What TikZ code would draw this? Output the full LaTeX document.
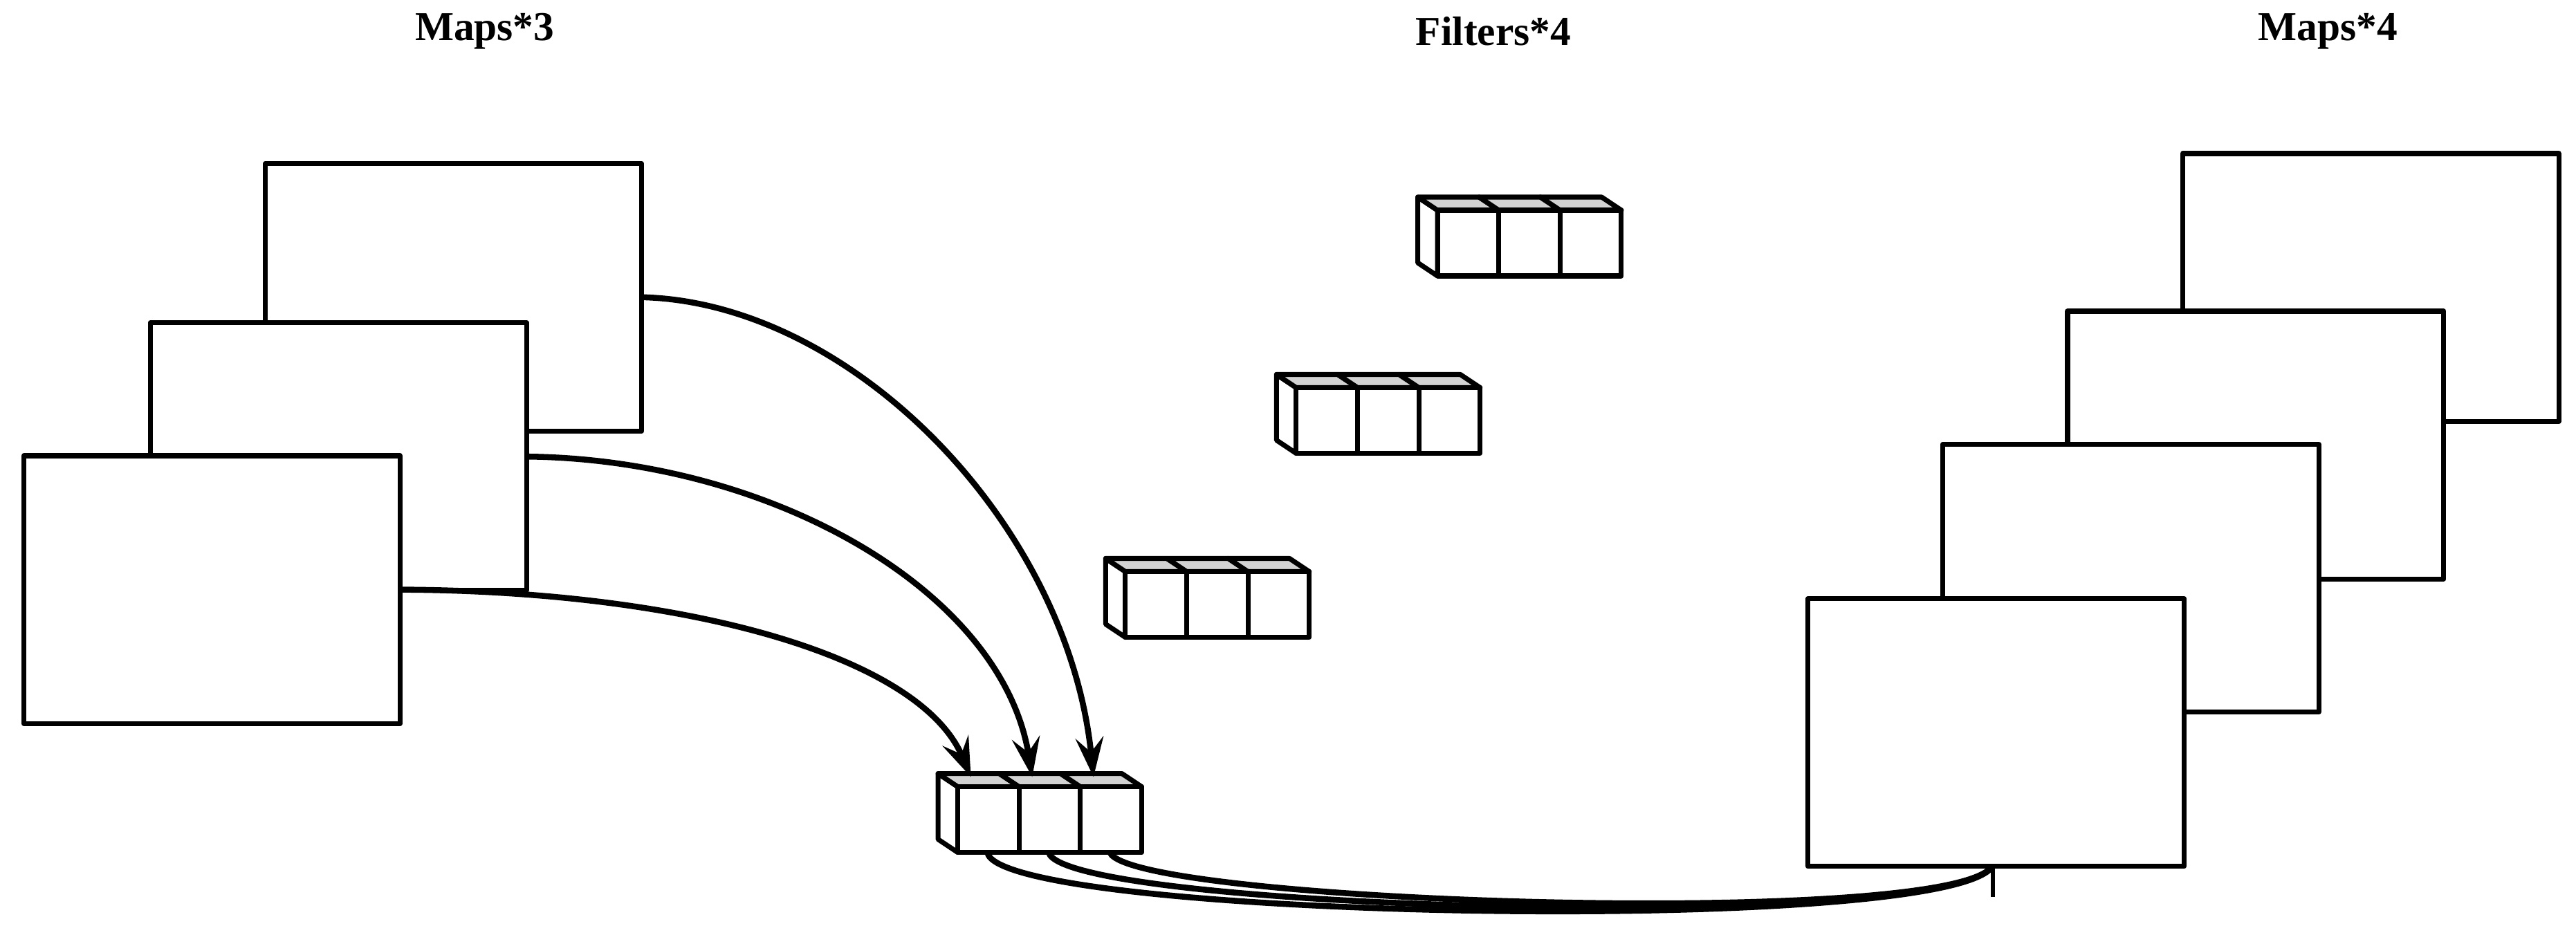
\documentclass[tikz,border=0pt]{standalone}
\usetikzlibrary{arrows.meta}
\usepackage{fontspec}
\setmainfont{Liberation Serif}
\begin{document}
\begin{tikzpicture}[x=1pt,y=-1pt,line join=round,
  map/.style={draw,fill=white,line width=3pt,minimum width=229pt,minimum height=163pt,inner sep=0pt,anchor=north west},
  ttl/.style={font=\bfseries\fontsize{25}{28}\selectfont},
  con/.style={line width=3.6pt},
  arr/.style={con,-{Stealth[length=24pt,width=17pt,inset=9pt]}}]
\useasboundingbox (0,0) rectangle (1568,569);
\newcommand{\filt}[3]{% #1 x0, #2 y0 (front bottom-left), #3 name
  \begin{scope}[shift={(#1,#2)},line width=3pt]
    \draw[fill=white] (0,0) -- (-12,-8) -- (-12,-48) -- (0,-40) -- cycle;
    \foreach \i in {0,1,2}{
      \draw[fill=gray!35] (\i*37.3,-40) -- (\i*37.3-12,-48) -- (\i*37.3+25.3,-48) -- (\i*37.3+37.3,-40) -- cycle;
      \draw[fill=white] (\i*37.3,0) rectangle (\i*37.3+37.3,-40);
      \coordinate (#3t\i) at (\i*37.3+8,-46);
      \coordinate (#3b\i) at (\i*37.3+18,0);
    }
  \end{scope}}
\node[ttl] (t1) at (295,19) {Maps*3};
\node[ttl] (t2) at (909,19) {Filters*4};
\node[ttl] (t3) at (1417,19) {Maps*4};
\node[map] (A) at (160,98) {};
\node[map] (B) at (90,195) {};
\node[map] (C) at (13,276) {};
\node[map] (R1) at (1327,92) {};
\node[map] (R2) at (1257,188) {};
\node[map] (R3) at (1181,269) {};
\node[map] (R4) at (1099,363) {};
\filt{875}{168}{fa}
\filt{789}{276}{fb}
\filt{685}{388}{fc}
\filt{583}{519}{fd}
\coordinate (end) at (1213,527);
\coordinate (tick) at (1213,546);
\draw[arr] (A.east) .. controls (520,185) and (650,320) .. (fdt2);
\draw[arr] (B.east) .. controls (470,280) and (610,360) .. (fdt1);
\draw[arr] (C.east) .. controls (420,360) and (560,400) .. (fdt0);
\draw[con] (fdb0) .. controls (608,560) and (1190,570) .. (end);
\draw[con] (fdb1) .. controls (648,555) and (1190,568) .. (end);
\draw[con] (fdb2) .. controls (688,550) and (1190,566) .. (end);
\draw[line width=2.6pt] (end) -- (tick);
\end{tikzpicture}
\end{document}
